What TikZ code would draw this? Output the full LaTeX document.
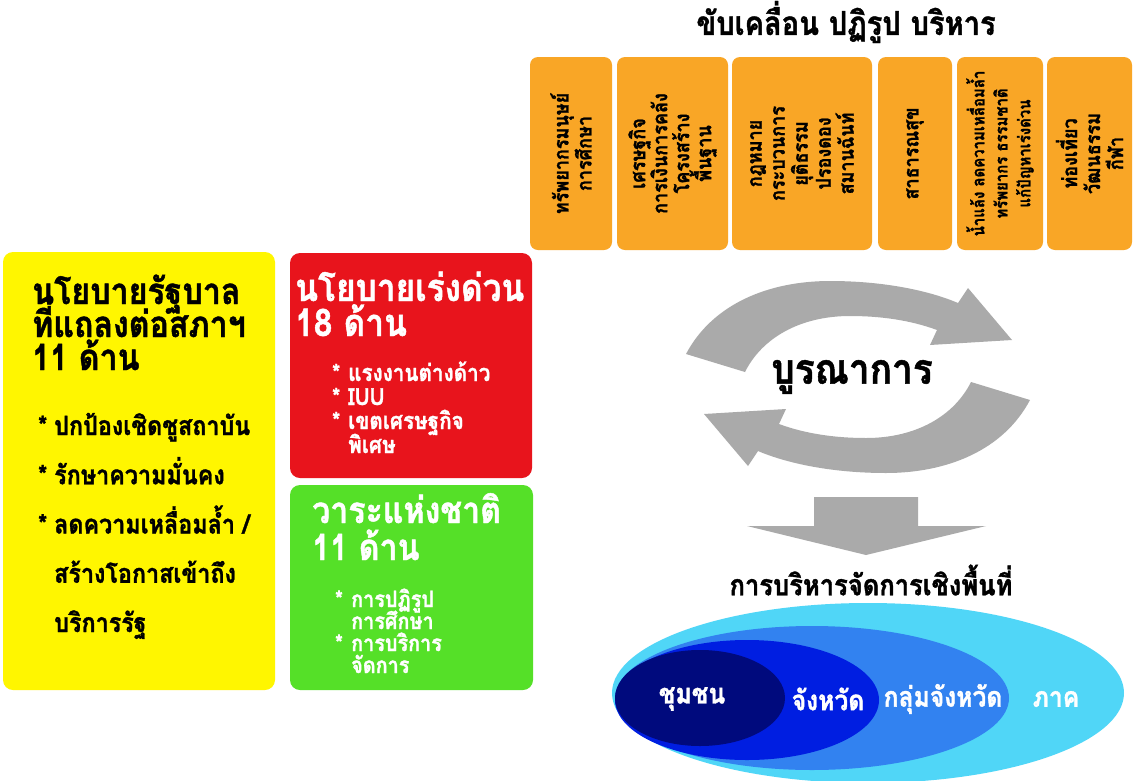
\documentclass[tikz,border=0pt]{standalone}
\usepackage{fontspec}
\newfontfamily\thf[Script=Thai,FakeStretch=0.88,BoldFeatures={FakeBold=1.2}]{Loma}
\definecolor{ylw}{RGB}{255,246,0}
\definecolor{rd}{RGB}{232,20,28}
\definecolor{grn}{RGB}{85,224,40}
\definecolor{org}{RGB}{249,166,38}
\definecolor{gry}{RGB}{170,170,170}
\definecolor{ell1}{RGB}{80,214,247}
\definecolor{ell2}{RGB}{50,130,240}
\definecolor{ell3}{RGB}{0,30,225}
\definecolor{ell4}{RGB}{0,10,125}
\newcommand{\bul}{\makebox[16pt][l]{*}}
\newcommand{\ind}{\hspace*{16pt}}
\newcommand{\tf}[2]{\thf\bfseries\fontsize{#1}{#2}\selectfont\lineskiplimit=-1000pt\lineskip=0pt}
\begin{document}
\begin{tikzpicture}[x=1pt,y=-1pt,
  panel/.style={rectangle, rounded corners=10pt, inner sep=0pt},
  obox/.style={rectangle, rounded corners=8pt, fill=org, inner sep=0pt, minimum height=193pt},
  otext/.style={rotate=90, align=center, inner sep=0pt, font=\tf{20.5}{23}},
  txt/.style={inner sep=0pt, anchor=base west, align=left},
  ltxt/.style={inner sep=0pt, text=white, font=\tf{28}{32}}]
\fill[white] (0,0) rectangle (1136,780);
\useasboundingbox (0,0) rectangle (1136,780);

% title
\node[inner sep=0pt, font=\tf{33}{38}] (title) at (846,22) {ขับเคลื่อน ปฏิรูป บริหาร};

% orange boxes
\node[obox, minimum width=82pt] (o1) at (571,153.5) {};
\node[obox, minimum width=111pt] (o2) at (672.5,153.5) {};
\node[obox, minimum width=140pt] (o3) at (802,153.5) {};
\node[obox, minimum width=74pt] (o4) at (915,153.5) {};
\node[obox, minimum width=86pt] (o5) at (1000,153.5) {};
\node[obox, minimum width=85pt] (o6) at (1089.5,153.5) {};
\node[otext] (t1) at (o1) {ทรัพยากรมนุษย์\\การศึกษา};
\node[otext, font=\tf{20.5}{22}] (t2) at (o2) {เศรษฐกิจ\\การเงินการคลัง\\โครงสร้าง\\พื้นฐาน};
\node[otext] (t3) at (o3) {กฎหมาย\\กระบวนการ\\ยุติธรรม\\ปรองดอง\\สมานฉันท์};
\node[otext] (t4) at (o4) {สาธารณสุข};
\node[otext, font=\tf{17}{23}] (t5) at (o5) {น้ำแล้ง ลดความเหลื่อมล้ำ\\ทรัพยากร ธรรมชาติ\\แก้ปัญหาเร่งด่วน};
\node[otext] (t6) at (o6) {ท่องเที่ยว\\วัฒนธรรม\\กีฬา};

% left panels
\node[panel, fill=ylw, minimum width=272pt, minimum height=438pt] (ybox) at (139,471) {};
\node[panel, fill=rd, minimum width=242pt, minimum height=225pt] (rbox) at (411,365.5) {};
\node[panel, fill=grn, minimum width=243pt, minimum height=205pt] (gbox) at (411.5,587.5) {};

\node[txt, font=\tf{36.5}{33}] (yhead) at (32,370) {นโยบายรัฐบาล\\ที่แถลงต่อสภาฯ\\11 ด้าน};
\node[txt, font=\tf{26.5}{49.25}] (ylist) at (38,632) {\bul ปกป้องเชิดชูสถาบัน\\\bul รักษาความมั่นคง\\\bul ลดความเหลื่อมล้ำ /\\\ind สร้างโอกาสเข้าถึง\\\ind บริการรัฐ};

\node[txt, text=white, font=\tf{38}{35}] (rhead) at (295,336) {นโยบายเร่งด่วน\\18 ด้าน};
\node[txt, text=white, font=\tf{23.5}{24}] (rlist) at (332,453) {\bul แรงงานต่างด้าว\\\bul IUU\\\bul เขตเศรษฐกิจ\\\ind พิเศษ};

\node[txt, text=white, font=\tf{36.5}{37}] (ghead) at (312,560) {วาระแห่งชาติ\\11 ด้าน};
\node[txt, text=white, font=\tf{22.5}{22}] (glist) at (335,673) {\bul การปฏิรูป\\\ind การศึกษา\\\bul การบริการ\\\ind จัดการ};

% circular arrows
\fill[gry] (686,354) .. controls (713,303) and (770,281) .. (830,281)
  .. controls (885,281) and (930,291) .. (958,303) -- (968,288) -- (1012,340) -- (930,345) -- (937,330)
  .. controls (910,320) and (880,316) .. (850,316) .. controls (800,316) and (762,338) .. (745,372) -- cycle;
\begin{scope}[rotate around={180:(858,377)}]
\fill[gry] (686,354) .. controls (713,303) and (770,281) .. (830,281)
  .. controls (885,281) and (930,291) .. (958,303) -- (968,288) -- (1012,340) -- (930,345) -- (937,330)
  .. controls (910,320) and (880,316) .. (850,316) .. controls (800,316) and (762,338) .. (745,372) -- cycle;
\end{scope}
\node[inner sep=0pt, font=\tf{42}{46}] (integ) at (852,377) {บูรณาการ};

% down arrow
\fill[gry] (814,497) -- (918,497) -- (918,526) -- (986,526) -- (866,555) -- (747,526) -- (814,526) -- cycle;
\node[inner sep=0pt, font=\tf{29}{33}] (area) at (871,580) {การบริหารจัดการเชิงพื้นที่};

% ellipses
\fill[ell1] (868,693) ellipse [x radius=256, y radius=90];
\fill[ell2] (812,698) ellipse [x radius=197, y radius=72];
\fill[ell3] (747,700) ellipse [x radius=132, y radius=60];
\fill[ell4] (700,698) ellipse [x radius=85, y radius=48];
\node[ltxt] (l1) at (692,699) {ชุมชน};
\node[ltxt] (l2) at (828,699) {จังหวัด};
\node[ltxt] (l3) at (943,699) {กลุ่มจังหวัด};
\node[ltxt] (l4) at (1056,699) {ภาค};
\end{tikzpicture}
\end{document}
